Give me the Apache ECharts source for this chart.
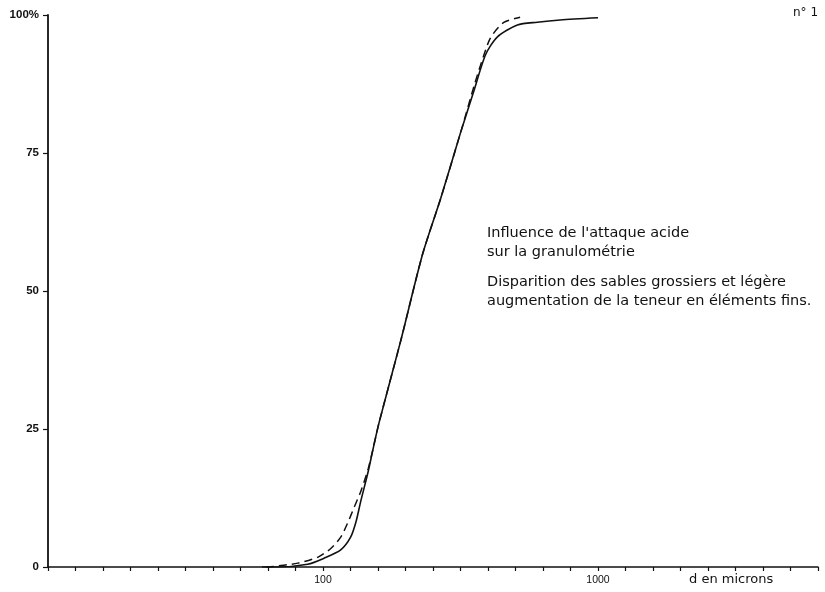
<!DOCTYPE html>
<html>
<head>
<meta charset="utf-8">
<script src="https://cdn.jsdelivr.net/npm/echarts@6/dist/echarts.min.js"></script>
<style>html,body{margin:0;padding:0;background:#fff}#c{width:825px;height:592px}</style>
</head>
<body>
<div id="c"></div>
<script>
// Grain size (microns) and cumulative percentage
var solidD   = [60, 68, 88, 101, 116, 126, 132, 137, 146, 153, 160, 192, 230, 268, 316, 352, 390, 430, 509, 601, 728, 1000];
var solidPct = [0, 0, 0.5, 1.6, 3.1, 5.4, 8.3, 11.8, 17.3, 22.0, 26.2, 41.1, 56.6, 66.8, 78.6, 85.9, 92.8, 96.0, 98.2, 98.7, 99.1, 99.5];
var dashedD   = [62, 66, 81, 96, 107, 116, 123, 130, 137, 146, 153, 160, 192, 230, 268, 316, 355, 374, 406, 453, 521];
var dashedPct = [0, 0.1, 0.7, 1.8, 3.4, 5.4, 8.0, 10.9, 13.6, 17.8, 22.0, 26.2, 41.1, 56.6, 66.8, 78.6, 87.3, 90.9, 95.8, 98.6, 99.6];
var xTickLabels = {2: '100', 3: '1000'};
var yTickLabels = {0: '0', 25: '25', 50: '50', 75: '75', 100: '100%'};
var noteLines = ["Influence de l'attaque acide", "sur la granulométrie", "Disparition des sables grossiers et légère", "augmentation de la teneur en éléments fins."];

function pairs(d, p) { return d.map(function (v, i) { return [Math.log10(v), p[i]]; }); }

var chart = echarts.init(document.getElementById('c'), null, {renderer: 'canvas'});
var font = '"Liberation Sans", Arial, sans-serif';
var font2 = '"DejaVu Sans", sans-serif';
chart.setOption({
  animation: false,
  backgroundColor: '#fff',
  grid: {left: 48, right: 7, top: 15, bottom: 25, containLabel: false},
  xAxis: {
    type: 'value', min: 1, max: 3.8, interval: 0.1,
    axisLine: {show: true, lineStyle: {color: '#111', width: 1.5}},
    axisTick: {show: true, inside: false, length: 4, lineStyle: {color: '#111', width: 1.2}},
    splitLine: {show: false},
    axisLabel: {
      margin: 8, color: '#111', fontSize: 10.5, fontFamily: font,
      formatter: function (v) {
        for (var k in xTickLabels) { if (Math.abs(v - k) < 1e-6) return xTickLabels[k]; }
        return '';
      }
    }
  },
  yAxis: {
    type: 'value', min: 0, max: 100, interval: 25,
    axisLine: {show: true, lineStyle: {color: '#111', width: 1.8}},
    axisTick: {show: true, length: 5, lineStyle: {color: '#111', width: 1.2}},
    splitLine: {show: false},
    axisLabel: {
      margin: 9, color: '#111', fontSize: 11.5, fontWeight: 'bold', fontFamily: font,
      formatter: function (v) { return yTickLabels[v] !== undefined ? yTickLabels[v] : ''; }
    }
  },
  graphic: [
    {type: 'text', left: 689, top: 573, style: {text: 'd en microns', font: '13px ' + font2, fill: '#111'}},
    {type: 'text', left: 793, top: 7, style: {text: 'n° 1', font: '12px ' + font2, fill: '#111'}},
    {type: 'text', left: 487, top: 226, style: {text: noteLines[0], font: '14.5px ' + font2, fill: '#111'}},
    {type: 'text', left: 487, top: 245, style: {text: noteLines[1], font: '14.5px ' + font2, fill: '#111'}},
    {type: 'text', left: 487, top: 275, style: {text: noteLines[2], font: '14.5px ' + font2, fill: '#111'}},
    {type: 'text', left: 487, top: 294, style: {text: noteLines[3], font: '14.5px ' + font2, fill: '#111'}}
  ],
  series: [
    {type: 'line', data: pairs(solidD, solidPct), showSymbol: false, symbol: 'none',
     smooth: 0.25, lineStyle: {color: '#111', width: 1.6}},
    {type: 'line', data: pairs(dashedD, dashedPct), showSymbol: false, symbol: 'none',
     smooth: 0.25, lineStyle: {color: '#111', width: 1.5, type: [8, 5]}}
  ]
});
</script>
</body>
</html>
